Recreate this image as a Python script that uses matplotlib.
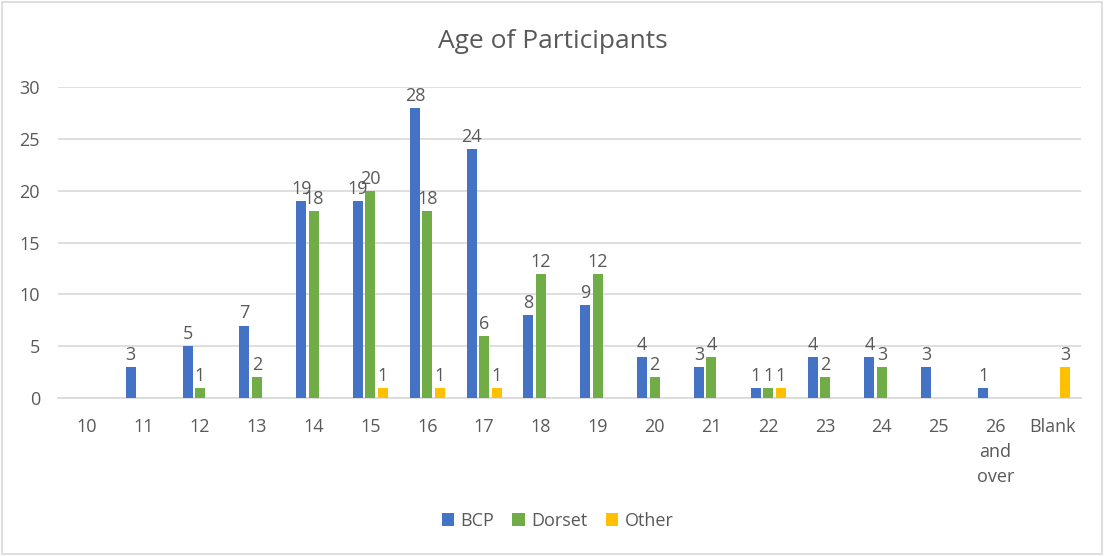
import matplotlib
matplotlib.use("Agg")
import matplotlib.pyplot as plt
import numpy as np
from matplotlib.patches import Rectangle

plt.rcParams['font.family'] = ['Open Sans', 'DejaVu Sans']

categories = ["10", "11", "12", "13", "14", "15", "16", "17", "18", "19",
              "20", "21", "22", "23", "24", "25", "26\nand\nover", "Blank"]
bcp    = [0, 3, 5, 7, 19, 19, 28, 24, 8, 9, 4, 3, 1, 4, 4, 3, 1, 0]
dorset = [0, 0, 1, 2, 18, 20, 18, 6, 12, 12, 2, 4, 1, 2, 3, 0, 0, 0]
other  = [0, 0, 0, 0, 0, 1, 1, 1, 0, 0, 0, 0, 1, 0, 0, 0, 0, 3]
series_names = ["BCP", "Dorset", "Other"]
colors = ["#4472C4", "#70AD47", "#FFC000"]
yticks = [0, 5, 10, 15, 20, 25, 30]

txt = "#595959"
fig = plt.figure(figsize=(11.04, 5.56), dpi=100)
fig.patches.append(Rectangle((0.002, 0.004), 0.996, 0.992, transform=fig.transFigure,
                             fill=False, edgecolor="#D9D9D9", linewidth=1.2))
ax = fig.add_axes([0.0525, 0.284, 0.9265, 0.5595])

x = np.arange(len(categories))
w = 0.176
step = 0.22
for i, (vals, name, c) in enumerate(zip([bcp, dorset, other], series_names, colors)):
    pos = x + (i - 1) * step
    ax.bar(pos, vals, width=w, color=c, label=name, zorder=3)
    for p, v in zip(pos, vals):
        if v > 0:
            ax.text(p, v + 0.3, str(v), ha="center", va="bottom", fontsize=13, color=txt, zorder=4)

ax.set_xlim(-0.5, len(categories) - 0.5)
ax.set_ylim(0, 30)
ax.set_yticks(yticks)
ax.set_yticklabels([str(t) for t in yticks], fontsize=13, color=txt)
ax.set_xticks(x)
ax.set_xticklabels(categories, fontsize=13, color=txt, linespacing=1.5, va="top")
ax.tick_params(axis="both", length=0)
ax.tick_params(axis="x", pad=14)
ax.tick_params(axis="y", pad=13)
ax.grid(axis="y", color="#D9D9D9", linewidth=1.2, zorder=0)
for s in ["top", "right", "left"]:
    ax.spines[s].set_visible(False)
ax.spines["bottom"].set_color("#D9D9D9")
ax.spines["bottom"].set_linewidth(1.2)

fig.text(0.501, 0.925, "Age of Participants", ha="center", va="center", fontsize=19, color=txt)
fig.legend(loc="center", bbox_to_anchor=(0.505, 0.063), ncol=3, frameon=False,
           fontsize=13, labelcolor=txt, handlelength=0.7, handleheight=0.7,
           handletextpad=0.35, columnspacing=1.0)

fig.savefig("out.png", dpi=100)
